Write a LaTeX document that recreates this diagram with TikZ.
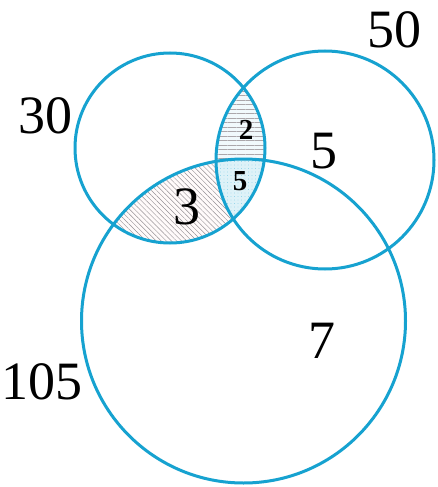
\documentclass[tikz,border=0pt]{standalone}
\usepackage{fontspec}
\setmainfont{Liberation Serif}
\usetikzlibrary{patterns,patterns.meta}
\definecolor{vblue}{RGB}{22,162,208}
\definecolor{hatchgray}{RGB}{150,145,150}
\tikzset{
  setcircle/.style={draw=vblue, line width=3pt},
  bignum/.style={inner sep=0pt, font=\fontsize{54}{60}\selectfont},
  smallnum/.style={inner sep=0pt, font=\fontsize{29}{32}\selectfont\bfseries},
}
\begin{document}
\begin{tikzpicture}[x=1pt,y=-1pt]
\useasboundingbox (0,0) rectangle (438,487);
\fill[white] (0,0) rectangle (438,487);
\coordinate (ca) at (170,148);
\coordinate (cb) at (325,160);
\coordinate (cc) at (243.5,321);
% A and C
\begin{scope}
  \clip (ca) circle (95);
  \clip (cc) circle (162);
  \fill[pink!8] (0,0) rectangle (438,487);
  \fill[pattern={Lines[angle=-45,distance=3.6pt,line width=0.45pt]}, pattern color=hatchgray] (0,0) rectangle (438,487);
\end{scope}
% A and B
\begin{scope}
  \clip (ca) circle (95);
  \clip (cb) circle (109);
  \fill[white] (0,0) rectangle (438,487);
  \fill[vblue!6] (0,0) rectangle (438,487);
  \fill[pattern={Lines[angle=0,distance=4.5pt,line width=0.45pt]}, pattern color=hatchgray!80] (0,0) rectangle (438,487);
\end{scope}
% A, B and C
\begin{scope}
  \clip (ca) circle (95);
  \clip (cb) circle (109);
  \clip (cc) circle (162);
  \fill[vblue!14] (0,0) rectangle (438,487);
  \fill[pattern={Dots[distance=3.5pt,radius=0.45pt]}, pattern color=vblue!60] (0,0) rectangle (438,487);
\end{scope}
\draw[setcircle] (ca) circle (95);
\draw[setcircle] (cb) circle (109);
\draw[setcircle] (cc) circle (162);
\node[bignum] (n30) at (45,116) {30};
\node[bignum] (n50) at (394,30) {50};
\node[bignum] (n105) at (42,382) {105};
\node[bignum] (n5) at (324,151) {5};
\node[bignum] (n7) at (322,341) {7};
\node[bignum] (n3) at (187,207) {3};
\node[smallnum] (n2s) at (246,130) {2};
\node[smallnum] (n5s) at (240,181) {5};
\end{tikzpicture}
\end{document}
